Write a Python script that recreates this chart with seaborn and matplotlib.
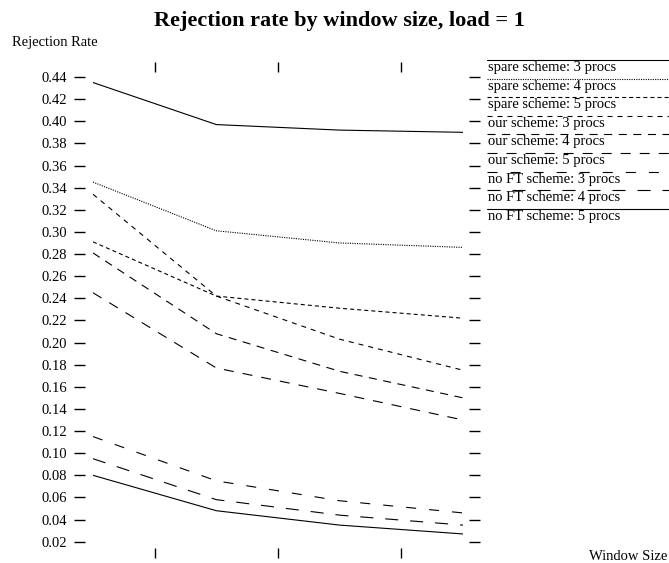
import matplotlib
matplotlib.use("Agg")
import matplotlib.pyplot as plt
from matplotlib.lines import Line2D
import numpy as np
import pandas as pd
import seaborn as sns

# ---- data -------------------------------------------------------------
window_sizes = [1, 2, 3, 4]

schemes = [
    "spare scheme: 3 procs",
    "spare scheme: 4 procs",
    "spare scheme: 5 procs",
    "our scheme: 3 procs",
    "our scheme: 4 procs",
    "our scheme: 5 procs",
    "no FT scheme: 3 procs",
    "no FT scheme: 4 procs",
    "no FT scheme: 5 procs",
]

spare_3 = [0.435, 0.397, 0.392, 0.390]
spare_4 = [0.345, 0.301, 0.290, 0.286]
spare_5 = [0.291, 0.242, 0.231, 0.222]
our_3 = [0.334, 0.242, 0.203, 0.175]
our_4 = [0.281, 0.208, 0.174, 0.150]
our_5 = [0.245, 0.177, 0.154, 0.130]
noft_3 = [0.115, 0.075, 0.057, 0.046]
noft_4 = [0.095, 0.058, 0.044, 0.035]
noft_5 = [0.080, 0.048, 0.035, 0.027]

rates = [spare_3, spare_4, spare_5, our_3, our_4, our_5, noft_3, noft_4, noft_5]

y_ticks = np.round(np.arange(0.02, 0.4401, 0.02), 2)
x_ticks = [1.5, 2.5, 3.5]

# line styles (dash on/off lengths in points, "" = solid)
dash_codes = ["", (0.8, 0.9), (2.9, 2.2), (3.6, 3.6), (5.8, 4.7),
              (7.2, 6.5), (7.2, 9.4), (9.4, 8.6), ""]

# ---- figure -----------------------------------------------------------
sns.set_theme(style="white")
plt.rcParams["font.family"] = ["Liberation Serif", "DejaVu Serif"]
plt.rcParams["text.color"] = "black"
plt.rcParams["axes.labelcolor"] = "black"
plt.rcParams["xtick.color"] = "black"
plt.rcParams["ytick.color"] = "black"
plt.rcParams["lines.scale_dashes"] = False

W, H, DPI = 669, 563, 100
fig = plt.figure(figsize=(W / DPI, H / DPI), dpi=DPI)
fig.patch.set_facecolor("white")
ax = fig.add_axes([93 / W, 1 - 541.7 / H, (463 - 93) / W, (541.7 - 77) / H])
ax.set_facecolor("white")

df = pd.DataFrame({
    "window": np.tile(window_sizes, len(schemes)),
    "rate": np.concatenate(rates),
    "scheme": np.repeat(schemes, len(window_sizes)),
})

sns.lineplot(
    data=df, x="window", y="rate", hue="scheme", style="scheme",
    hue_order=schemes, style_order=schemes,
    palette={s: "black" for s in schemes},
    dashes=dict(zip(schemes, dash_codes)),
    linewidth=0.8, legend=False, errorbar=None, sort=False, ax=ax,
)

ax.set_xlim(window_sizes[0], window_sizes[-1])
ax.set_ylim(y_ticks[0], y_ticks[-1])

# free-floating tick marks, no frame
for side, off in {"left": 5.8, "right": 4.3, "top": 3.6, "bottom": 4.6}.items():
    ax.spines[side].set_position(("outward", off))
    ax.spines[side].set_visible(False)

ax.set_yticks(y_ticks)
ax.set_yticklabels([f"{v:.2f}" for v in y_ticks])
ax.set_xticks(x_ticks)
ax.set_xticklabels([])
ax.tick_params(axis="y", left=True, right=True, labelleft=True, labelright=False,
               direction="out", length=7.6, width=1.0, pad=5, labelsize=10.5)
ax.tick_params(axis="x", top=True, bottom=True, labeltop=False, labelbottom=False,
               direction="out", length=7.0, width=1.0)
ax.grid(False)

ax.set_ylabel("Rejection Rate", rotation=0, ha="left", va="center", fontsize=10.5)
ax.yaxis.set_label_coords(11.7 / W, 1 - 42.7 / H, transform=fig.transFigure)
ax.set_xlabel("Window Size", ha="right", va="center", fontsize=10.5)
ax.xaxis.set_label_coords(667 / W, 1 - 557 / H, transform=fig.transFigure)

fig.text(339 / W, 1 - 20.7 / H, "Rejection rate by window size, load = 1",
         ha="center", va="center", fontsize=16, fontweight="bold")

# key: sample line above each label, running to the right edge
for i, (name, dash) in enumerate(zip(schemes, dash_codes)):
    y_line = 1 - (60 + 18.6 * i) / H
    style = {"linestyle": "-"} if dash == "" else {"dashes": dash}
    fig.add_artist(Line2D([487 / W, 1.0], [y_line, y_line], transform=fig.transFigure,
                          color="black", linewidth=0.8, **style))
    fig.text(487.5 / W, 1 - (71 + 18.6 * i) / H, name, ha="left", va="baseline",
             fontsize=10.5)

fig.savefig("out.png", dpi=DPI, facecolor="white")
